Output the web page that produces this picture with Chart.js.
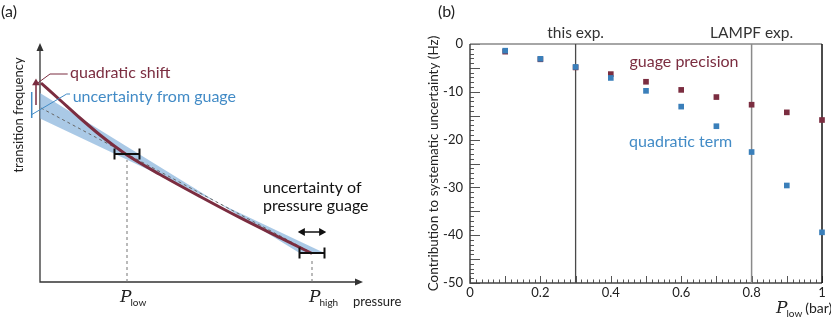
<!DOCTYPE html>
<html>
<head>
<meta charset="utf-8">
<script src="https://cdn.jsdelivr.net/npm/chart.js@4"></script>
<style>
  body { margin: 0; background: #fff; }
  #wrap { position: relative; width: 831px; height: 323px; }
  canvas { position: absolute; top: 0; }
  #chartA { left: 0; }
  #chartB { left: 420px; }
</style>
</head>
<body>
<div id="wrap">
  <canvas id="chartA" width="420" height="323"></canvas>
  <canvas id="chartB" width="411" height="323"></canvas>
</div>
<script>
// ---- panel (a): schematic, x = pressure, y = transition frequency (arbitrary units) ----
const curvePressure = [1, 20, 40, 60, 75, 87, 120, 160, 200, 240, 272];
const curveFrequency = [199, 182, 164, 147, 135.5, 127, 107.5, 85.5, 64.3, 44.3, 28.5];
const fitPressure = [1, 272];
const fitFrequency = [174, 29];
const bandPressure = [0, 259.5, 284.5];
const bandUpper = [189, 29, 29];
const bandLower = [163.4, 40.8, 29];
const pLow = 87;
const pHigh = 272;
const fLow = 128;
const fHigh = 29;
const gaugeErr = 12.5;
const gaugeArrowF = 50;
const shiftArrowP = [-4, -4];
const shiftArrowF = [177, 199];
const gaugeShiftP = [-8.3, -8.3];
const gaugeShiftF = [164, 190];
const shiftLeaderP = [-2.3, 10, 27.7];
const shiftLeaderF = [199, 208, 208];
const gaugeLeaderP = [-9, 26.7, 30];
const gaugeLeaderF = [167, 188, 188];

// ---- panel (b): contributions to systematic uncertainty ----
const pLowValues = [0.1, 0.2, 0.3, 0.4, 0.5, 0.6, 0.7, 0.8, 0.9, 1.0];
const gaugePrecision = [-1.6, -3.2, -4.9, -6.3, -7.9, -9.6, -11.1, -12.7, -14.3, -15.9];
const quadraticTerm = [-1.4, -3.1, -4.8, -7.1, -9.8, -13.1, -17.2, -22.6, -29.6, -39.4];
const experimentP = [0.3, 0.8];
const experimentNames = ['this exp.', 'LAMPF exp.'];
const experimentColors = ['#4a4a4a', '#8a8a8a'];

const MAROON = '#7b2d40';
const BLUE = '#3a7fba';
const BLUE_TEXT = '#428bc6';
const BAND = 'rgba(130, 176, 218, 0.68)';
const FONT = 'Lato, "Open Sans", sans-serif';

function pts(xs, ys) {
  return xs.map((x, i) => ({x: x, y: ys[i]}));
}

function text(ctx, str, x, y, font, color, align, baseline) {
  ctx.font = font;
  ctx.fillStyle = color;
  ctx.textAlign = align || 'left';
  ctx.textBaseline = baseline || 'middle';
  ctx.fillText(str, x, y);
}

// italic P with a small upright subscript
function pLabel(ctx, x, baseline, sub) {
  text(ctx, 'P', x, baseline, 'italic 17px "DejaVu Serif", "Liberation Serif", serif', '#222', 'left', 'alphabetic');
  const w = ctx.measureText('P').width;
  text(ctx, sub, x + w - 1, baseline + 4, '10px ' + FONT, '#222', 'left', 'alphabetic');
  return x + w - 1 + ctx.measureText(sub).width;
}

const schematicDecor = {
  id: 'schematicDecor',
  beforeDatasetsDraw(chart) {
    const {ctx, chartArea: a} = chart;
    ctx.save();
    ctx.strokeStyle = '#333';
    ctx.fillStyle = '#333';
    ctx.lineWidth = 1.3;
    ctx.beginPath();
    ctx.moveTo(a.left, a.top + 4);
    ctx.lineTo(a.left, a.bottom);
    ctx.lineTo(a.right - 4, a.bottom);
    ctx.stroke();
    ctx.beginPath();
    ctx.moveTo(a.left, a.top);
    ctx.lineTo(a.left - 3.5, a.top + 8);
    ctx.lineTo(a.left + 3.5, a.top + 8);
    ctx.closePath();
    ctx.moveTo(a.right, a.bottom);
    ctx.lineTo(a.right - 8, a.bottom - 3.5);
    ctx.lineTo(a.right - 8, a.bottom + 3.5);
    ctx.closePath();
    ctx.fill();
    ctx.restore();
  },
  afterDatasetsDraw(chart) {
    const {ctx, scales: {x, y}} = chart;
    const X = v => x.getPixelForValue(v);
    const Y = v => y.getPixelForValue(v);
    ctx.save();
    text(ctx, '(a)', 1, 12, '16px ' + FONT, '#222');
    text(ctx, 'quadratic shift', X(30), Y(209), '16px ' + FONT, MAROON);
    text(ctx, 'uncertainty from guage', X(32.7), Y(185), '16px ' + FONT, BLUE_TEXT);
    text(ctx, 'uncertainty of', X(223), Y(94), '16px ' + FONT, '#111');
    text(ctx, 'pressure guage', X(223), Y(76), '16px ' + FONT, '#111');
    text(ctx, 'pressure', X(313), Y(-20), '13px ' + FONT, '#222');
    pLabel(ctx, X(pLow) - 7, 302, 'low');
    pLabel(ctx, X(pHigh) - 3, 302, 'high');
    ctx.translate(19, Y(167));
    ctx.rotate(-Math.PI / 2);
    text(ctx, 'transition frequency', 0, 0, '13px ' + FONT, '#222', 'center');
    ctx.restore();
  }
};

new Chart(document.getElementById('chartA'), {
  type: 'scatter',
  data: {
    datasets: [
      {data: pts(bandPressure, bandUpper), showLine: true, borderWidth: 0, pointRadius: 0,
        backgroundColor: BAND, fill: '+1', order: 10},
      {data: pts(bandPressure, bandLower), showLine: true, borderWidth: 0, pointRadius: 0, order: 11},
      {data: pts(fitPressure, fitFrequency), showLine: true, borderColor: '#666', borderWidth: 1,
        borderDash: [3, 3], pointRadius: 0, order: 9},
      {data: pts(curvePressure, curveFrequency), showLine: true, borderColor: MAROON, borderWidth: 3,
        cubicInterpolationMode: 'monotone', pointRadius: 0, order: 8},
      {data: pts([pLow, pLow], [0, fLow - 6]), showLine: true, borderColor: '#777', borderWidth: 1,
        borderDash: [3, 3], pointRadius: 0, order: 7},
      {data: pts([pHigh, pHigh], [0, fHigh - 6]), showLine: true, borderColor: '#777', borderWidth: 1,
        borderDash: [3, 3], pointRadius: 0, order: 7},
      {data: pts([pLow - gaugeErr, pLow + gaugeErr], [fLow, fLow]), showLine: true, borderColor: '#111',
        borderWidth: 2, pointStyle: 'line', pointRotation: 90, pointRadius: 5.5, pointBorderWidth: 2,
        pointBorderColor: '#111', order: 1},
      {data: pts([pHigh - gaugeErr, pHigh + gaugeErr], [fHigh, fHigh]), showLine: true, borderColor: '#111',
        borderWidth: 2, pointStyle: 'line', pointRotation: 90, pointRadius: 5.5, pointBorderWidth: 2,
        pointBorderColor: '#111', order: 1},
      {data: pts([pHigh - gaugeErr + 3, pHigh + gaugeErr - 3], [gaugeArrowF, gaugeArrowF]), showLine: true,
        borderColor: '#111', borderWidth: 1.5, pointStyle: 'triangle', pointRotation: [270, 90],
        pointRadius: 3.2, pointBackgroundColor: '#111', pointBorderColor: '#111', order: 1},
      {data: pts(shiftArrowP, shiftArrowF), showLine: true, borderColor: MAROON, borderWidth: 1.5,
        pointStyle: 'triangle', pointRadius: [0, 3], pointBackgroundColor: MAROON,
        pointBorderColor: MAROON, clip: false, order: 2},
      {data: pts(shiftLeaderP, shiftLeaderF), showLine: true, borderColor: MAROON, borderWidth: 1,
        pointRadius: 0, clip: false, order: 2},
      {data: pts(gaugeShiftP, gaugeShiftF), showLine: true, borderColor: BLUE_TEXT, borderWidth: 1.5,
        pointStyle: 'triangle', pointRotation: [180, 0], pointRadius: 3, pointBackgroundColor: BLUE_TEXT,
        pointBorderColor: BLUE_TEXT, clip: false, order: 2},
      {data: pts(gaugeLeaderP, gaugeLeaderF), showLine: true, borderColor: BLUE_TEXT, borderWidth: 1,
        pointRadius: 0, clip: false, order: 2}
    ]
  },
  options: {
    responsive: false,
    animation: false,
    events: [],
    layout: {padding: {left: 40, right: 57, top: 43, bottom: 41}},
    plugins: {legend: {display: false}, tooltip: {enabled: false}},
    scales: {
      x: {type: 'linear', min: 0, max: 323, display: false},
      y: {type: 'linear', min: 0, max: 239, display: false}
    }
  },
  plugins: [schematicDecor]
});

// ---- panel (b) ----
const frameAndTicks = {
  id: 'frameAndTicks',
  beforeDatasetsDraw(chart) {
    const {ctx, chartArea: a, scales: {x, y}} = chart;
    ctx.save();
    ctx.lineWidth = 1;
    ctx.strokeStyle = '#555';
    ctx.beginPath();
    for (let i = 0; i <= 60; i++) {
      const px = Math.round(x.getPixelForValue(i / 60)) + 0.5;
      const len = i % 6 === 0 ? 7 : 3.5;
      ctx.moveTo(px, a.bottom);
      ctx.lineTo(px, a.bottom - len);
    }
    for (let v = 0; v >= -50; v--) {
      const py = Math.round(y.getPixelForValue(v)) + 0.5;
      const len = v % 5 === 0 ? 10 : 4;
      ctx.moveTo(a.left, py);
      ctx.lineTo(a.left + len, py);
    }
    ctx.stroke();
    // frame
    ctx.strokeStyle = '#888';
    ctx.lineWidth = 1.5;
    ctx.beginPath();
    ctx.moveTo(a.left, a.top);
    ctx.lineTo(a.right, a.top);
    ctx.stroke();
    ctx.strokeStyle = '#444';
    ctx.beginPath();
    ctx.moveTo(a.left, a.top);
    ctx.lineTo(a.left, a.bottom);
    ctx.lineTo(a.right, a.bottom);
    ctx.stroke();
    ctx.strokeStyle = '#111';
    ctx.beginPath();
    ctx.moveTo(a.right, a.top);
    ctx.lineTo(a.right, a.bottom);
    ctx.stroke();
    ctx.restore();
  },
  afterDatasetsDraw(chart) {
    const {ctx, scales: {x, y}} = chart;
    ctx.save();
    experimentP.forEach((p, i) => {
      text(ctx, experimentNames[i], x.getPixelForValue(p), 33, '15.5px ' + FONT, '#333', 'center');
    });
    text(ctx, 'guage precision', x.getPixelForValue(0.453), y.getPixelForValue(-3.8), '16px ' + FONT, MAROON);
    text(ctx, 'quadratic term', x.getPixelForValue(0.452), y.getPixelForValue(-20.5), '16px ' + FONT, BLUE_TEXT);
    text(ctx, '(b)', 18, 12, '16px ' + FONT, '#222');
    const end = pLabel(ctx, 356, 313, 'low');
    text(ctx, '(bar)', end + 3, 308, '14px ' + FONT, '#222');
    ctx.restore();
  }
};

new Chart(document.getElementById('chartB'), {
  type: 'scatter',
  data: {
    datasets: [
      {data: pts(pLowValues, quadraticTerm), pointStyle: 'rect', pointRadius: 4,
        pointBackgroundColor: BLUE, pointBorderWidth: 0, clip: false, order: 0},
      {data: pts(pLowValues, gaugePrecision), pointStyle: 'rect', pointRadius: 4,
        pointBackgroundColor: MAROON, pointBorderWidth: 0, clip: false, order: 1},
      {data: pts([experimentP[0], experimentP[0]], [0, -50]), showLine: true, borderColor: experimentColors[0],
        borderWidth: 1.3, pointRadius: 0, order: 2},
      {data: pts([experimentP[1], experimentP[1]], [0, -50]), showLine: true, borderColor: experimentColors[1],
        borderWidth: 1.5, pointRadius: 0, order: 2}
    ]
  },
  options: {
    responsive: false,
    animation: false,
    events: [],
    layout: {padding: {left: 0, right: 9, top: 44, bottom: 0}},
    plugins: {legend: {display: false}, tooltip: {enabled: false}},
    scales: {
      x: {
        type: 'linear', min: 0, max: 1,
        grid: {display: false, drawTicks: false},
        border: {display: false},
        ticks: {stepSize: 0.2, padding: 2, color: '#222', font: {family: FONT, size: 13},
          callback: v => String(Math.round(v * 10) / 10)},
        afterFit(scale) { scale.height = 40; }
      },
      y: {
        type: 'linear', min: -50, max: 0,
        grid: {display: false, drawTicks: false},
        border: {display: false},
        ticks: {stepSize: 10, padding: 7, color: '#222', font: {family: FONT, size: 13}},
        title: {display: true, text: 'Contribution to systematic uncertainty (Hz)', color: '#222',
          font: {family: FONT, size: 13.5}, padding: {top: 6, bottom: 0}},
        afterFit(scale) { scale.width = 50; }
      }
    }
  },
  plugins: [frameAndTicks]
});
</script>
</body>
</html>
